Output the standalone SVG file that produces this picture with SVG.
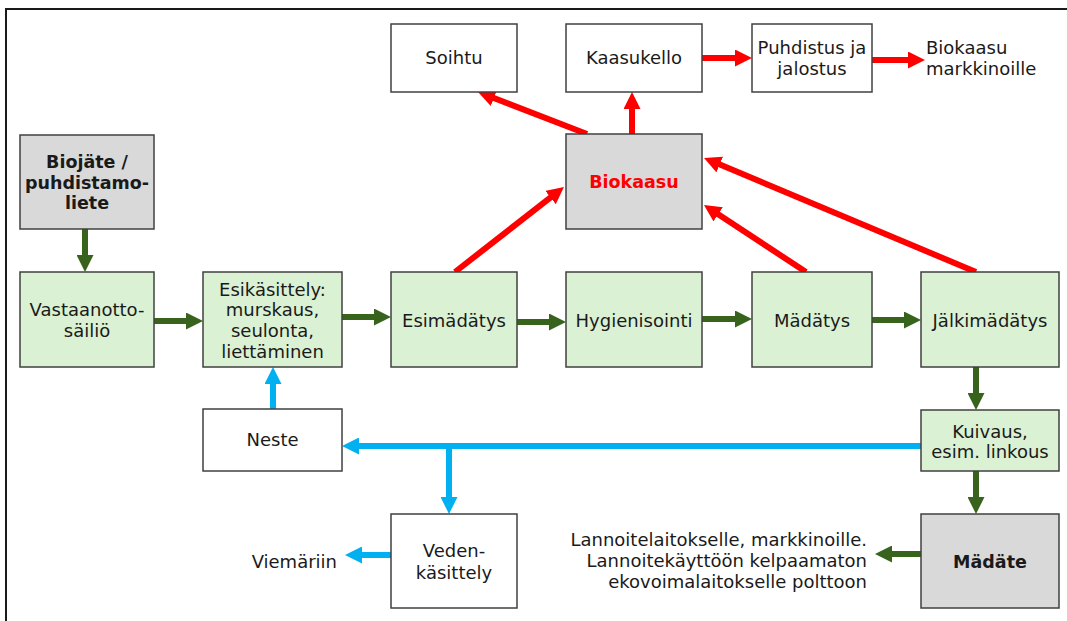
<svg xmlns="http://www.w3.org/2000/svg" width="1067" height="621" viewBox="0 0 1067 621">
<style>
.box{stroke:#404040;stroke-width:1.5}
.w{fill:#ffffff}.g{fill:#dbf1d3}.k{fill:#d9d9d9}
text{font-family:"DejaVu Sans","Verdana",sans-serif;font-size:18px;fill:#1a1a1a}
.c{text-anchor:middle}
.b{font-weight:bold;font-size:17.5px}
.r{fill:#ff0000}
.gr{stroke:#38631c;stroke-width:6;fill:none}
.bl{stroke:#00b0f0;stroke-width:6;fill:none}
.rd{stroke:#ff0000;stroke-width:6;fill:none}
</style>
<defs>
<marker id="ag" markerUnits="userSpaceOnUse" markerWidth="17" markerHeight="17" refX="5" refY="8.5" orient="auto"><path d="M0,0 L17,8.5 L0,17 z" fill="#38631c"/></marker>
<marker id="ab" markerUnits="userSpaceOnUse" markerWidth="17" markerHeight="17" refX="5" refY="8.5" orient="auto"><path d="M0,0 L17,8.5 L0,17 z" fill="#00b0f0"/></marker>
<marker id="ar" markerUnits="userSpaceOnUse" markerWidth="17" markerHeight="17" refX="5" refY="8.5" orient="auto"><path d="M0,0 L17,8.5 L0,17 z" fill="#ff0000"/></marker>
</defs>
<rect x="0" y="0" width="1067" height="621" fill="#ffffff"/>
<path d="M6,621 V9 H1067" fill="none" stroke="#1a1a1a" stroke-width="2"/>

<g id="connectors">
<line class="gr" x1="85" y1="229" x2="85" y2="260" marker-end="url(#ag)"/>
<line class="gr" x1="154" y1="321" x2="191" y2="321" marker-end="url(#ag)"/>
<line class="gr" x1="342" y1="317" x2="379" y2="317" marker-end="url(#ag)"/>
<line class="gr" x1="517" y1="322" x2="554" y2="322" marker-end="url(#ag)"/>
<line class="gr" x1="702" y1="319" x2="740" y2="319" marker-end="url(#ag)"/>
<line class="gr" x1="872" y1="320" x2="909" y2="320" marker-end="url(#ag)"/>
<line class="gr" x1="976" y1="367" x2="976" y2="398" marker-end="url(#ag)"/>
<line class="gr" x1="976" y1="471" x2="976" y2="502" marker-end="url(#ag)"/>
<line class="gr" x1="921" y1="554" x2="887" y2="554" marker-end="url(#ag)"/>
<line class="bl" x1="921" y1="446" x2="354" y2="446" marker-end="url(#ab)"/>
<line class="bl" x1="449" y1="446" x2="449" y2="502" marker-end="url(#ab)"/>
<line class="bl" x1="273" y1="409" x2="273" y2="379" marker-end="url(#ab)"/>
<line class="bl" x1="391" y1="555" x2="357" y2="555" marker-end="url(#ab)"/>
<line class="rd" x1="587" y1="134" x2="489.2" y2="96.3" marker-end="url(#ar)"/>
<line class="rd" x1="632" y1="134" x2="632" y2="104" marker-end="url(#ar)"/>
<line class="rd" x1="702" y1="58" x2="740" y2="58" marker-end="url(#ar)"/>
<line class="rd" x1="872" y1="60" x2="913" y2="60" marker-end="url(#ar)"/>
<line class="rd" x1="455" y1="272" x2="554.5" y2="194.4" marker-end="url(#ar)"/>
<line class="rd" x1="806" y1="272" x2="714" y2="211.6" marker-end="url(#ar)"/>
<line class="rd" x1="976" y1="272" x2="715.1" y2="162.6" marker-end="url(#ar)"/>
</g>

<g id="biojate"><rect class="box k" x="20" y="135" width="134" height="94"/>
<text class="c b" x="87" y="168">Biojäte /</text><text class="c b" x="87" y="189">puhdistamo-</text><text class="c b" x="87" y="209">liete</text></g>
<g id="vastaanotto"><rect class="box g" x="20" y="272" width="134" height="95"/>
<text class="c" x="87" y="316">Vastaanotto-</text><text class="c" x="87" y="337">säiliö</text></g>
<g id="esikasittely"><rect class="box g" x="203" y="272" width="139" height="95"/>
<text class="c" x="272.5" y="295.5">Esikäsittely:</text><text class="c" x="272.5" y="316">murskaus,</text><text class="c" x="272.5" y="337">seulonta,</text><text class="c" x="272.5" y="358">liettäminen</text></g>
<g id="neste"><rect class="box w" x="203" y="409" width="139" height="62"/>
<text class="c" x="272.5" y="446">Neste</text></g>
<g id="veden"><rect class="box w" x="391" y="514" width="126" height="94"/>
<text class="c" x="454" y="557">Veden-</text><text class="c" x="454" y="579">käsittely</text></g>
<g id="viemariin"><text x="337" y="568" text-anchor="end">Viemäriin</text></g>
<g id="soihtu"><rect class="box w" x="391" y="24" width="126" height="68"/>
<text class="c" x="454" y="64">Soihtu</text></g>
<g id="kaasukello"><rect class="box w" x="566" y="24" width="136" height="68"/>
<text class="c" x="634" y="64">Kaasukello</text></g>
<g id="puhdistus"><rect class="box w" x="752" y="24" width="120" height="68"/>
<text class="c" x="812" y="54">Puhdistus ja</text><text class="c" x="812" y="75">jalostus</text></g>
<g id="markkinoille"><text x="926" y="54">Biokaasu</text><text x="926" y="75">markkinoille</text></g>
<g id="biokaasu"><rect class="box k" x="566" y="134" width="136" height="95"/>
<text class="c b r" x="634" y="188">Biokaasu</text></g>
<g id="esimadatys"><rect class="box g" x="391" y="272" width="126" height="95"/>
<text class="c" x="454" y="327">Esimädätys</text></g>
<g id="hygienisointi"><rect class="box g" x="566" y="272" width="136" height="95"/>
<text class="c" x="634" y="327">Hygienisointi</text></g>
<g id="madatys"><rect class="box g" x="752" y="272" width="120" height="95"/>
<text class="c" x="812" y="327">Mädätys</text></g>
<g id="jalkimadatys"><rect class="box g" x="921" y="272" width="138" height="95"/>
<text class="c" x="990" y="327">Jälkimädätys</text></g>
<g id="kuivaus"><rect class="box g" x="921" y="410" width="138" height="61"/>
<text class="c" x="990" y="438">Kuivaus,</text><text class="c" x="990" y="458">esim. linkous</text></g>
<g id="madate"><rect class="box k" x="921" y="514" width="138" height="94"/>
<text class="c b" x="990" y="568">Mädäte</text></g>
<g id="lannoite"><text x="867" y="546" text-anchor="end">Lannoitelaitokselle, markkinoille.</text><text x="867" y="567" text-anchor="end">Lannoitekäyttöön kelpaamaton</text><text x="867" y="588" text-anchor="end">ekovoimalaitokselle polttoon</text></g>
</svg>
